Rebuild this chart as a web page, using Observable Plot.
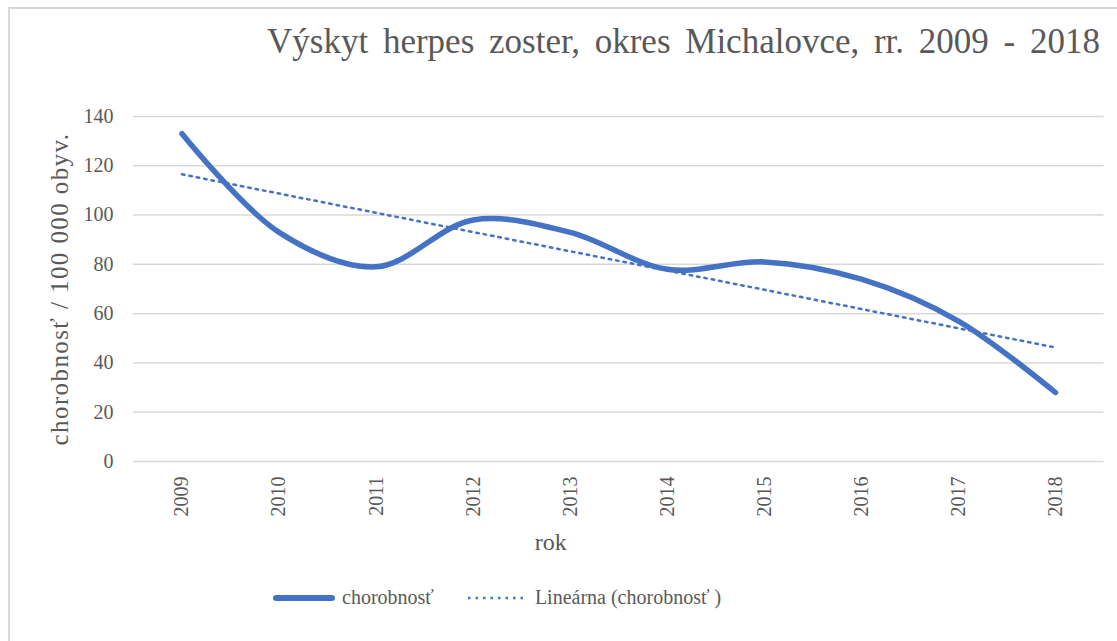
<!DOCTYPE html>
<html>
<head>
<meta charset="utf-8">
<script src="https://cdn.jsdelivr.net/npm/d3@7"></script>
<script src="https://cdn.jsdelivr.net/npm/@observablehq/plot@0.6"></script>
<style>
  html, body { margin: 0; padding: 0; background: #fff; overflow: hidden; }
  #wrap { position: relative; width: 1117px; height: 641px; overflow: hidden; font-family: 'Liberation Serif', serif; color: #595959; }
  #frame { position: absolute; left: 8px; top: 7px; width: 1200px; height: 700px; border: 2px solid #d9d9d9; box-sizing: border-box; }
  #title { position: absolute; right: 17px; top: 22px; font-family: 'Liberation Serif', serif; font-size: 35px; white-space: nowrap; word-spacing: 6px; }
  #chart { position: absolute; left: 0; top: 0; }
  #chart svg text { font-family: 'Liberation Serif', serif !important; fill: #595959; }
  #chart svg text.ylab { letter-spacing: 1.2px; }
  #legend { position: absolute; left: 273px; top: 586px; font-family: 'Liberation Serif', serif; font-size: 20px; display: flex; align-items: center; white-space: nowrap; }
  #legend .sw { display: inline-block; }
</style>
</head>
<body>
<div id="wrap">
  <div id="frame"></div>
  <div id="title">Výskyt herpes zoster, okres Michalovce, rr. 2009 - 2018</div>
  <div id="chart"></div>
  <div id="legend">
    <svg class="sw" width="62" height="10"><line x1="3" y1="5" x2="59" y2="5" stroke="#4472C4" stroke-width="6" stroke-linecap="round"/></svg>
    <span style="margin-left:7px">chorobnosť</span>
    <svg class="sw" width="60" height="10" style="margin-left:32px"><line x1="2" y1="5" x2="58" y2="5" stroke="#4472C4" stroke-width="2.5" stroke-dasharray="2.5 5"/></svg>
    <span style="margin-left:9px">Lineárna (chorobnosť )</span>
  </div>
</div>
<script>
const years = [2009, 2010, 2011, 2012, 2013, 2014, 2015, 2016, 2017, 2018];
const chorobnost = [133, 93, 79, 98, 93, 78, 81, 74, 57, 28];
const yTicks = [0, 20, 40, 60, 80, 100, 120, 140];
const yLabel = "chorobnosť / 100 000 obyv.";
const xLabel = "rok";

const data = years.map((y, i) => ({year: y, value: chorobnost[i]}));

const W = 1117, H = 641;
const mt = 116, mb = 180, ml = 133, mr = 13.5;
const serif = "Liberation Serif";

const plot = Plot.plot({
  width: W,
  height: H,
  marginTop: mt,
  marginBottom: mb,
  marginLeft: ml,
  marginRight: mr,
  style: {fontFamily: serif, fontSize: "20px", color: "#595959", background: "transparent"},
  x: {domain: [2008.5, 2018.5], label: null},
  y: {domain: [0, 140], label: null},
  marks: [
    Plot.gridY(yTicks, {stroke: "#d9d9d9", strokeOpacity: 1, strokeWidth: 1.5}),
    Plot.axisY({ticks: yTicks, tickSize: 0, tickPadding: 20, fontSize: 20, fontFamily: serif, label: null}),
    Plot.axisX({ticks: years, tickFormat: d => String(d), tickRotate: -90, tickSize: 0, tickPadding: 15, fontSize: 20, fontFamily: serif, label: null}),
    Plot.line(data, {x: "year", y: "value", curve: "catmull-rom", stroke: "#4472C4", strokeWidth: 5.5, strokeLinecap: "round", strokeLinejoin: "round"}),
    Plot.linearRegressionY(data, {x: "year", y: "value", ci: 0, stroke: "#4472C4", strokeWidth: 2.5, strokeDasharray: "2.5 5"}),
    Plot.text([yLabel], {frameAnchor: "left", textAnchor: "middle", dx: -74, rotate: -90, fontSize: 25, fontFamily: serif, fill: "#595959", className: "ylab"}),
    Plot.text([xLabel], {x: [2012.8], frameAnchor: "bottom", dy: 88, fontSize: 24, fontFamily: serif, fill: "#595959"})
  ]
});
plot.querySelectorAll("g[aria-label='text']").forEach(g => {
  g.querySelectorAll("text").forEach(t => { if (t.textContent === yLabel) t.style.letterSpacing = "1.4px"; });
});
document.getElementById("chart").appendChild(plot);
</script>
</body>
</html>
